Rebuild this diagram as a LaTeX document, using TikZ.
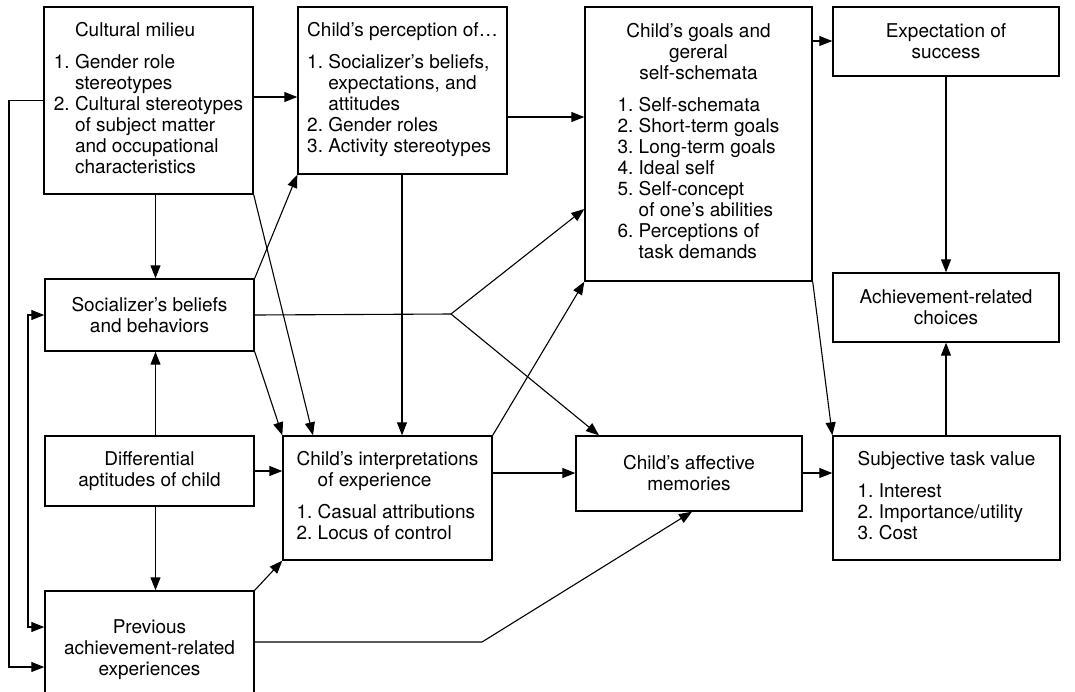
\documentclass[tikz,border=0pt]{standalone}
\usepackage{fontspec}
\setmainfont{TeX Gyre Heros}
\usetikzlibrary{arrows.meta}
\begin{document}
\begin{tikzpicture}[x=1pt,y=-1pt,
  box/.style={draw,line width=1.4pt,inner sep=0pt,font=\fontsize{19}{21}\selectfont},
  arr/.style={line width=1.1pt,-{Triangle[length=13pt,width=10pt]}},
  darr/.style={line width=1.1pt,{Triangle[length=13pt,width=10pt]}-{Triangle[length=13pt,width=10pt]}},
  ln/.style={line width=1.1pt}]
\useasboundingbox (0,0) rectangle (1075,691);

\node[box,minimum width=209pt,minimum height=187pt] (cm) at (148.5,100.5)
 {\begin{tabular}{@{}l@{\ }l@{}}
  & Cultural milieu\\[11pt]
  1.& Gender role\\
    & stereotypes\\
  2.& Cultural stereotypes\\
    & of subject matter\\
    & and occupational\\
    & characteristics
  \end{tabular}};

\node[box,minimum width=209pt,minimum height=167pt] (cp) at (402.5,90.5)
 {\begin{tabular}{@{}l@{\ }l@{}}
  \multicolumn{2}{@{}l@{}}{Child’s perception of…}\\[11pt]
  1.& Socializer’s beliefs,\\
    & expectations, and\\
    & attitudes\\
  2.& Gender roles\\
  3.& Activity stereotypes
  \end{tabular}};

\node[box,minimum width=227pt,minimum height=274pt] (cg) at (698.5,144)
 {\begin{tabular}{@{}l@{\ }l@{}}
  \multicolumn{2}{@{}c@{}}{Child’s goals and}\\
  \multicolumn{2}{@{}c@{}}{gereral}\\
  \multicolumn{2}{@{}c@{}}{self-schemata}\\[11pt]
  1.& Self-schemata\\
  2.& Short-term goals\\
  3.& Long-term goals\\
  4.& Ideal self\\
  5.& Self-concept\\
    & of one’s abilities\\
  6.& Perceptions of\\
    & task demands
  \end{tabular}};

\node[box,minimum width=226pt,minimum height=69pt,align=center] (es) at (946,41.5)
 {Expectation of\\success};

\node[box,minimum width=226pt,minimum height=69pt,align=center] (ac) at (946,307.5)
 {Achievement-related\\choices};

\node[box,minimum width=209pt,minimum height=72pt,align=center] (sb) at (149.5,315)
 {Socializer’s beliefs\\and behaviors};

\node[box,minimum width=209pt,minimum height=70pt,align=center] (da) at (149.5,471)
 {Differential\\aptitudes of child};

\node[box,minimum width=209pt,minimum height=124pt] (ci) at (387.5,498)
 {\begin{tabular}{@{}l@{\ }l@{}}
  \multicolumn{2}{@{}l@{}}{Child’s interpretations}\\
    & of experience\\[11pt]
  1.& Casual attributions\\
  2.& Locus of control
  \end{tabular}};

\node[box,minimum width=226pt,minimum height=75pt,align=center] (am) at (689,473.5)
 {Child’s affective\\memories};

\node[box,minimum width=227pt,minimum height=124pt] (stv) at (946.5,498)
 {\begin{tabular}{@{}l@{\ }l@{}}
  \multicolumn{2}{@{}l@{}}{Subjective task value}\\[11pt]
  1.& Interest\\
  2.& Importance/utility\\
  3.& Cost
  \end{tabular}};

\node[box,minimum width=209pt,minimum height=118pt,align=center] (pa) at (149.5,650)
 {Previous\\achievement-related\\experiences};

% helper coordinates
\coordinate (br) at (451,314);
\coordinate (pk) at (482,642);
\coordinate (l1) at (9,0);
\coordinate (l2) at (28,0);

% connectors
\draw[arr] (cm.east |- 0,97) -- (cp.west |- 0,97);
\draw[arr] (cm.south -| 155.5,0) -- (sb.north -| 155.5,0);
\draw[arr] (cm.south east) -- (ci.north -| 313,0);
\draw[arr] (sb.north east) -- (cp.south west);
\draw[ln] (sb.east) -- (br);
\draw[arr] (br) -- (cg.west |- 0,209);
\draw[arr] (br) -- (am.north -| 599,0);
\draw[arr] (sb.south east) -- (ci.north west);
\draw[arr] (cp.south -| 402,0) -- (ci.north -| 402,0);
\draw[arr] (cp.east |- 0,117) -- (cg.west |- 0,117);
\draw[arr] (cg.east |- 0,41) -- (es.west |- 0,41);
\draw[arr] (cg.south east) -- (stv.north west);
\draw[arr] (es.south) -- (ac.north);
\draw[arr] (stv.north -| ac.south) -- (ac.south);
\draw[arr] (ci.north east) -- (cg.south west);
\draw[arr] (ci.east |- 0,473) -- (am.west |- 0,473);
\draw[arr] (am.east |- 0,473) -- (stv.west |- 0,473);
\draw[arr] (da.north -| 155.5,0) -- (sb.south -| 155.5,0);
\draw[arr] (da.south -| 155.5,0) -- (pa.north -| 155.5,0);
\draw[arr] (da.east) -- (ci.west |- da.east);
\draw[arr] (pa.north east) -- (ci.south west);
\draw[arr] (pa.east |- pk) -- (pk) -- (am.south -| 692,0);
\draw[arr] (cm.west) -- (cm.west -| l1) |- ([yshift=-17pt]pa.west);
\draw[darr] (sb.west) -- (sb.west -| l2) |- ([yshift=23pt]pa.west);
\end{tikzpicture}
\end{document}
